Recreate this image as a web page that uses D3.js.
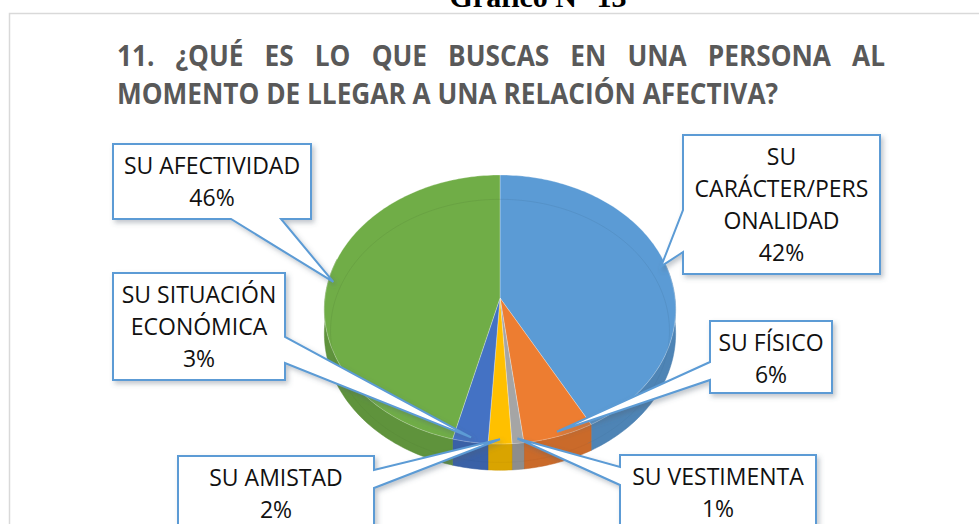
<!DOCTYPE html>
<html>
<head>
<meta charset="utf-8">
<script src="https://cdn.jsdelivr.net/npm/d3@7"></script>
<style>
  body { margin: 0; background: #fff; }
  svg { display: block; }
</style>
</head>
<body>
<div id="chart"></div>
<script>
// Chart data
var captionText = "Gráfico N° 13";
var titleLines = ["11. ¿QUÉ ES LO QUE BUSCAS EN UNA PERSONA AL",
                  "MOMENTO DE LLEGAR A UNA RELACIÓN AFECTIVA?"];
var categories = ["SU CARÁCTER/PERSONALIDAD", "SU FÍSICO", "SU VESTIMENTA",
                  "SU AMISTAD", "SU SITUACIÓN ECONÓMICA", "SU AFECTIVIDAD"];
var labelLines = [["SU", "CARÁCTER/PERS", "ONALIDAD"], ["SU FÍSICO"], ["SU VESTIMENTA"],
                  ["SU AMISTAD"], ["SU SITUACIÓN", "ECONÓMICA"], ["SU AFECTIVIDAD"]];
var percents = [42, 6, 1, 2, 3, 46];

//Set dimensions
var width = 979, height = 524;

//Office colours
var color = d3.scaleOrdinal()
        .domain(categories)
        .range(["#5b9bd5", "#ed7d31", "#a5a5a5", "#ffc000", "#4472c4", "#70ad47"]);

//3D pie geometry (simple perspective)
var cx = 500, cy = 298, rx = 175, ry = 133.5, persp = 0.0855, depth = 24;

function proj(a, r, dy) {
    var x = Math.sin(a) * r, z = -Math.cos(a) * r;
    var s = 1 / (1 - persp * z);
    return [cx + rx * x * s, cy + ry * z * s + (dy || 0) * s];
}

function rim(a0, a1, r, dy) {
    var n = Math.max(2, Math.ceil((a1 - a0) / 0.02));
    return d3.range(n + 1).map(function (i) {
        return proj(a0 + (a1 - a0) * i / n, r, dy);
    });
}

//Callout box layout (placed by hand in the original)
var calloutBoxes = [
    {x: 683, y: 135, w: 197, h: 139, side: "left", t0: 210, t1: 252},
    {x: 710, y: 321, w: 122, h: 72, side: "left", t0: 362, t1: 380},
    {x: 620, y: 455, w: 196, h: 90, side: "left", t0: 467, t1: 485},
    {x: 178, y: 456, w: 196, h: 90, side: "right", t0: 470, t1: 488},
    {x: 113, y: 273, w: 172, h: 107, side: "right", t0: 337, t1: 363},
    {x: 113, y: 144, w: 198, h: 75, side: "bottom", t0: 231, t1: 281}
];

var svg = d3.select("#chart").append("svg")
        .attr("width", width)
        .attr("height", height);

var defs = svg.append("defs");
var shadow = defs.append("filter").attr("id", "shadow")
        .attr("x", "-20%").attr("y", "-20%").attr("width", "150%").attr("height", "150%");
shadow.append("feDropShadow")
        .attr("dx", 2.5).attr("dy", 3).attr("stdDeviation", 2.5)
        .attr("flood-color", "#506070").attr("flood-opacity", 0.35);

//Caption above the chart area (cut off at the top)
svg.append("text")
        .attr("x", 538)
        .attr("y", 7)
        .attr("text-anchor", "middle")
        .style("font-family", "'Liberation Serif', 'Times New Roman', serif")
        .style("font-weight", "bold")
        .style("font-size", "30px")
        .text(captionText);

//Chart area border
svg.append("rect")
        .attr("x", 9.5).attr("y", 13.5)
        .attr("width", 1000).attr("height", 600)
        .attr("fill", "#fff")
        .attr("stroke", "#d9d9d9")
        .attr("stroke-width", 1.5);

//Title, first line justified, second left aligned
var titleG = svg.append("g")
        .style("font-family", "'Open Sans', sans-serif")
        .style("font-weight", "bold")
        .style("font-size", "29px")
        .attr("fill", "#595959");

var line2 = titleG.append("text")
        .attr("x", 117).attr("y", 104)
        .text(titleLines[1]);
var squeeze = 661 / line2.node().getComputedTextLength();
line2.attr("textLength", 661).attr("lengthAdjust", "spacingAndGlyphs");

var words = titleLines[0].split(" ");
var wordNodes = words.map(function (w) {
    return titleG.append("text").attr("y", 66).text(w);
});
var wordWidths = wordNodes.map(function (t) {
    return t.node().getComputedTextLength() * squeeze;
});
var gap = (885 - 117 - d3.sum(wordWidths)) / (words.length - 1);
var wx = 117;
wordNodes.forEach(function (t, i) {
    t.attr("x", wx)
     .attr("textLength", wordWidths[i])
     .attr("lengthAdjust", "spacingAndGlyphs");
    wx += wordWidths[i] + gap;
});

//Pie layout
var pie = d3.pie()
        .sort(null)
        .value(function (d) { return d; });
var slices = pie(percents);

var pieG = svg.append("g").attr("class", "pie3d");
var line = d3.line();

//Side walls (front part only)
slices.forEach(function (d, i) {
    var a0 = Math.max(d.startAngle, Math.PI / 2 - 0.3),
        a1 = Math.min(d.endAngle, 3 * Math.PI / 2 + 0.3);
    if (a1 <= a0) return;
    var pts = rim(a0, a1, 1, 0).concat(rim(a0, a1, 1, depth).reverse());
    pieG.append("path")
            .attr("d", line(pts) + "Z")
            .attr("fill", d3.color(color(categories[i])).darker(0.45))
            .attr("stroke", d3.color(color(categories[i])).darker(0.6))
            .attr("stroke-width", 0.5);
});

//Top faces
slices.forEach(function (d, i) {
    var pts = [proj(0, 0)].concat(rim(d.startAngle, d.endAngle, 1, 0));
    pieG.append("path")
            .attr("d", line(pts) + "Z")
            .attr("fill", color(categories[i]))
            .attr("stroke", "rgba(255,255,255,0.35)")
            .attr("stroke-width", 0.8)
            .attr("stroke-linejoin", "round");
});

//Faint bevel line on the top face
slices.forEach(function (d, i) {
    pieG.append("path")
            .attr("d", line(rim(d.startAngle, d.endAngle, 0.965, 22)))
            .attr("fill", "none")
            .attr("stroke", d3.color(color(categories[i])).darker(0.8))
            .attr("stroke-opacity", 0.3)
            .attr("stroke-width", 0.8);
});

//Callouts
function calloutPath(b, tip) {
    var x0 = b.x, y0 = b.y, x1 = b.x + b.w, y1 = b.y + b.h, p = [];
    p.push([x0, y0], [x1, y0]);
    if (b.side === "right") p.push([x1, b.t0], tip, [x1, b.t1]);
    p.push([x1, y1]);
    if (b.side === "bottom") p.push([b.t1, y1], tip, [b.t0, y1]);
    p.push([x0, y1]);
    if (b.side === "left") p.push([x0, b.t1], tip, [x0, b.t0]);
    return "M" + p.join("L") + "Z";
}

var callouts = svg.append("g").selectAll(".callout")
        .data(slices)
        .enter().append("g")
        .attr("class", "callout");

callouts.append("path")
        .attr("d", function (d, i) {
            var mid = (d.startAngle + d.endAngle) / 2;
            return calloutPath(calloutBoxes[i], proj(mid, 0.97, 0));
        })
        .attr("fill", "#fff")
        .attr("stroke", "#5b9bd5")
        .attr("stroke-width", 2)
        .attr("stroke-linejoin", "miter")
        .attr("filter", "url(#shadow)");

callouts.append("text")
        .style("font-family", "'Open Sans', sans-serif")
        .style("font-size", "23px")
        .attr("fill", "#111")
        .attr("text-anchor", "middle")
        .each(function (d, i) {
            var b = calloutBoxes[i];
            var lines = labelLines[i].concat([d.data + "%"]);
            var t = d3.select(this);
            lines.forEach(function (s, j) {
                t.append("tspan")
                        .attr("x", b.x + b.w / 2)
                        .attr("y", b.y + 30 + j * 32)
                        .text(s);
            });
        });
</script>
</body>
</html>
